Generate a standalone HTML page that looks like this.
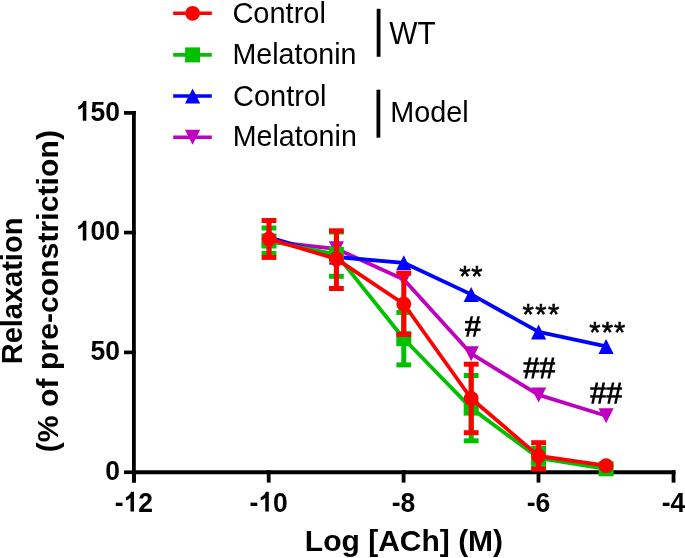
<!DOCTYPE html>
<html><head><meta charset="utf-8"><style>
html,body{margin:0;padding:0;background:#fff;width:685px;height:558px;overflow:hidden}
svg{display:block;will-change:transform}
</style></head><body>
<svg width="685" height="558" viewBox="0 0 685 558">
<line x1="133.9" y1="111.0" x2="133.9" y2="482.6" stroke="#000" stroke-width="3.8"/>
<line x1="132.0" y1="472.25" x2="675.4" y2="472.25" stroke="#000" stroke-width="3.9"/>
<line x1="124.0" y1="112.9" x2="135.8" y2="112.9" stroke="#000" stroke-width="3.7"/>
<line x1="124.0" y1="232.55" x2="135.8" y2="232.55" stroke="#000" stroke-width="3.7"/>
<line x1="124.0" y1="352.4" x2="135.8" y2="352.4" stroke="#000" stroke-width="3.7"/>
<line x1="124.0" y1="472.25" x2="135.8" y2="472.25" stroke="#000" stroke-width="3.7"/>
<line x1="133.9" y1="470.3" x2="133.9" y2="482.6" stroke="#000" stroke-width="3.8"/>
<line x1="268.7" y1="470.3" x2="268.7" y2="482.6" stroke="#000" stroke-width="3.8"/>
<line x1="403.6" y1="470.3" x2="403.6" y2="482.6" stroke="#000" stroke-width="3.8"/>
<line x1="538.5" y1="470.3" x2="538.5" y2="482.6" stroke="#000" stroke-width="3.8"/>
<line x1="673.55" y1="470.3" x2="673.55" y2="482.6" stroke="#000" stroke-width="3.8"/>
<g transform="matrix(1,0,0,1.04,0,-4.832)"><path transform="translate(75.90,120.8) scale(0.012939,-0.012939)" d="M806 0H532V1032Q382 892 178 825V1073Q285 1108 411 1214Q537 1320 584 1466H806Z"/><text x="90.63" y="120.8" font-family="Liberation Sans" font-weight="bold" font-size="26.5">50</text></g>
<g transform="matrix(1,0,0,1.04,0,-9.616)"><path transform="translate(75.90,240.4) scale(0.012939,-0.012939)" d="M806 0H532V1032Q382 892 178 825V1073Q285 1108 411 1214Q537 1320 584 1466H806Z"/><text x="90.63" y="240.4" font-family="Liberation Sans" font-weight="bold" font-size="26.5">00</text></g>
<g transform="matrix(1,0,0,1.04,0,-14.408)"><text x="90.63" y="360.2" font-family="Liberation Sans" font-weight="bold" font-size="26.5">50</text></g>
<g transform="matrix(1,0,0,1.04,0,-19.204)"><text x="105.37" y="480.1" font-family="Liberation Sans" font-weight="bold" font-size="26.5">0</text></g>
<g transform="matrix(1,0,0,1.04,0,-20.464)"><text x="114.75" y="511.6" font-family="Liberation Sans" font-weight="bold" font-size="26.5">-</text><path transform="translate(123.58,511.6) scale(0.012939,-0.012939)" d="M806 0H532V1032Q382 892 178 825V1073Q285 1108 411 1214Q537 1320 584 1466H806Z"/><text x="138.31" y="511.6" font-family="Liberation Sans" font-weight="bold" font-size="26.5">2</text></g>
<g transform="matrix(1,0,0,1.04,0,-20.464)"><text x="249.55" y="511.6" font-family="Liberation Sans" font-weight="bold" font-size="26.5">-</text><path transform="translate(258.38,511.6) scale(0.012939,-0.012939)" d="M806 0H532V1032Q382 892 178 825V1073Q285 1108 411 1214Q537 1320 584 1466H806Z"/><text x="273.11" y="511.6" font-family="Liberation Sans" font-weight="bold" font-size="26.5">0</text></g>
<g transform="matrix(1,0,0,1.04,0,-20.464)"><text x="391.82" y="511.6" font-family="Liberation Sans" font-weight="bold" font-size="26.5">-8</text></g>
<g transform="matrix(1,0,0,1.04,0,-20.464)"><text x="526.72" y="511.6" font-family="Liberation Sans" font-weight="bold" font-size="26.5">-6</text></g>
<g transform="matrix(1,0,0,1.04,0,-20.464)"><text x="661.77" y="511.6" font-family="Liberation Sans" font-weight="bold" font-size="26.5">-4</text></g>
<text x="304.85" y="550.6" font-family="Liberation Sans" font-weight="bold" font-size="30">Log [ACh] (M)</text>
<text transform="translate(22.2,364.3) rotate(-90)" font-family="Liberation Sans" font-weight="bold" font-size="29">Relaxation</text>
<text transform="translate(58,452.3) rotate(-90)" font-family="Liberation Sans" font-weight="bold" font-size="30" letter-spacing="0.1">(% of pre-constriction)</text>
<polyline points="269.0,241.5 336.4,248.8 403.8,279.5 471.2,353.7 538.6,394.9 606.1,415.8" fill="none" stroke="#c000c0" stroke-width="3.8" stroke-linejoin="round"/>
<polygon points="261.4,234.0 276.6,234.0 269.0,249.0" fill="#c000c0"/>
<polygon points="328.8,241.3 344.0,241.3 336.4,256.3" fill="#c000c0"/>
<polygon points="396.2,272.0 411.4,272.0 403.8,287.0" fill="#c000c0"/>
<polygon points="463.6,346.2 478.8,346.2 471.2,361.2" fill="#c000c0"/>
<polygon points="531.0,387.4 546.2,387.4 538.6,402.4" fill="#c000c0"/>
<polygon points="598.5,408.3 613.7,408.3 606.1,423.3" fill="#c000c0"/>
<polyline points="269.0,237.4 336.4,257.0 403.8,262.8 471.2,294.4 538.6,331.9 606.1,346.4" fill="none" stroke="#0000ff" stroke-width="3.8" stroke-linejoin="round"/>
<polygon points="269.0,229.9 276.6,244.9 261.4,244.9" fill="#0000ff"/>
<polygon points="336.4,249.5 344.0,264.5 328.8,264.5" fill="#0000ff"/>
<polygon points="403.8,255.3 411.4,270.3 396.2,270.3" fill="#0000ff"/>
<polygon points="471.2,286.9 478.8,301.9 463.6,301.9" fill="#0000ff"/>
<polygon points="538.6,324.4 546.2,339.4 531.0,339.4" fill="#0000ff"/>
<polygon points="606.1,338.9 613.7,353.9 598.5,353.9" fill="#0000ff"/>
<polyline points="269.0,241.0 336.4,254.3 403.8,338.7 471.2,408.1 538.6,458.0 606.1,468.8" fill="none" stroke="#00c000" stroke-width="3.8" stroke-linejoin="round"/>
<line x1="269.0" y1="228.0" x2="269.0" y2="253.5" stroke="#00c000" stroke-width="5.0"/><line x1="261.6" y1="228.0" x2="276.4" y2="228.0" stroke="#00c000" stroke-width="5.0"/><line x1="261.6" y1="253.5" x2="276.4" y2="253.5" stroke="#00c000" stroke-width="5.0"/><line x1="336.4" y1="232.0" x2="336.4" y2="276.3" stroke="#00c000" stroke-width="5.0"/><line x1="329.0" y1="232.0" x2="343.8" y2="232.0" stroke="#00c000" stroke-width="5.0"/><line x1="329.0" y1="276.3" x2="343.8" y2="276.3" stroke="#00c000" stroke-width="5.0"/><line x1="403.8" y1="312.4" x2="403.8" y2="364.9" stroke="#00c000" stroke-width="5.0"/><line x1="396.4" y1="312.4" x2="411.2" y2="312.4" stroke="#00c000" stroke-width="5.0"/><line x1="396.4" y1="364.9" x2="411.2" y2="364.9" stroke="#00c000" stroke-width="5.0"/><line x1="471.2" y1="375.5" x2="471.2" y2="440.8" stroke="#00c000" stroke-width="5.0"/><line x1="463.8" y1="375.5" x2="478.6" y2="375.5" stroke="#00c000" stroke-width="5.0"/><line x1="463.8" y1="440.8" x2="478.6" y2="440.8" stroke="#00c000" stroke-width="5.0"/><line x1="538.6" y1="448.3" x2="538.6" y2="467.8" stroke="#00c000" stroke-width="5.0"/><line x1="531.2" y1="448.3" x2="546.0" y2="448.3" stroke="#00c000" stroke-width="5.0"/><line x1="531.2" y1="467.8" x2="546.0" y2="467.8" stroke="#00c000" stroke-width="5.0"/>
<rect x="261.5" y="233.5" width="15" height="15" fill="#00c000"/>
<rect x="328.9" y="246.8" width="15" height="15" fill="#00c000"/>
<rect x="396.3" y="331.2" width="15" height="15" fill="#00c000"/>
<rect x="463.7" y="400.6" width="15" height="15" fill="#00c000"/>
<rect x="531.1" y="450.5" width="15" height="15" fill="#00c000"/>
<rect x="598.6" y="461.3" width="15" height="15" fill="#00c000"/>
<polyline points="269.0,238.9 336.4,258.9 403.8,304.0 471.2,398.5 538.6,456.0 606.1,465.7" fill="none" stroke="#ff0000" stroke-width="3.8" stroke-linejoin="round"/>
<line x1="269.0" y1="220.5" x2="269.0" y2="257.4" stroke="#ff0000" stroke-width="5.0"/><line x1="261.6" y1="220.5" x2="276.4" y2="220.5" stroke="#ff0000" stroke-width="5.0"/><line x1="261.6" y1="257.4" x2="276.4" y2="257.4" stroke="#ff0000" stroke-width="5.0"/><line x1="336.4" y1="230.8" x2="336.4" y2="288.5" stroke="#ff0000" stroke-width="5.0"/><line x1="329.0" y1="230.8" x2="343.8" y2="230.8" stroke="#ff0000" stroke-width="5.0"/><line x1="329.0" y1="288.5" x2="343.8" y2="288.5" stroke="#ff0000" stroke-width="5.0"/><line x1="403.8" y1="273.3" x2="403.8" y2="334.5" stroke="#ff0000" stroke-width="5.0"/><line x1="396.4" y1="273.3" x2="411.2" y2="273.3" stroke="#ff0000" stroke-width="5.0"/><line x1="396.4" y1="334.5" x2="411.2" y2="334.5" stroke="#ff0000" stroke-width="5.0"/><line x1="471.2" y1="364.2" x2="471.2" y2="432.7" stroke="#ff0000" stroke-width="5.0"/><line x1="463.8" y1="364.2" x2="478.6" y2="364.2" stroke="#ff0000" stroke-width="5.0"/><line x1="463.8" y1="432.7" x2="478.6" y2="432.7" stroke="#ff0000" stroke-width="5.0"/><line x1="538.6" y1="442.7" x2="538.6" y2="469.1" stroke="#ff0000" stroke-width="5.0"/><line x1="531.2" y1="442.7" x2="546.0" y2="442.7" stroke="#ff0000" stroke-width="5.0"/><line x1="531.2" y1="469.1" x2="546.0" y2="469.1" stroke="#ff0000" stroke-width="5.0"/>
<circle cx="269.0" cy="238.9" r="7.4" fill="#ff0000"/>
<circle cx="336.4" cy="258.9" r="7.4" fill="#ff0000"/>
<circle cx="403.8" cy="304.0" r="7.4" fill="#ff0000"/>
<circle cx="471.2" cy="398.5" r="7.4" fill="#ff0000"/>
<circle cx="538.6" cy="456.0" r="7.4" fill="#ff0000"/>
<circle cx="606.1" cy="465.7" r="7.4" fill="#ff0000"/>
<text x="459.3" y="286" font-family="Liberation Sans" font-size="29" stroke="#000" stroke-width="0.6" letter-spacing="0.7">**</text>
<text x="522.6" y="323.8" font-family="Liberation Sans" font-size="29" stroke="#000" stroke-width="0.6" letter-spacing="1.45">***</text>
<text x="589.3" y="341.6" font-family="Liberation Sans" font-size="29" stroke="#000" stroke-width="0.6" letter-spacing="1.1">***</text>
<g fill="#000"><rect x="465.00" y="320.90" width="15.6" height="2.4"/><rect x="465.00" y="328.50" width="15.6" height="2.4"/><polygon points="470.55,316.30 473.05,316.30 468.55,336.70 466.05,336.70"/><polygon points="477.35,316.30 479.85,316.30 475.35,336.70 472.85,336.70"/><rect x="523.40" y="362.23" width="15.6" height="2.4"/><rect x="523.40" y="370.13" width="15.6" height="2.4"/><polygon points="528.95,357.40 531.45,357.40 526.95,378.60 524.45,378.60"/><polygon points="535.75,357.40 538.25,357.40 533.75,378.60 531.25,378.60"/><rect x="539.50" y="362.23" width="15.6" height="2.4"/><rect x="539.50" y="370.13" width="15.6" height="2.4"/><polygon points="545.05,357.40 547.55,357.40 543.05,378.60 540.55,378.60"/><polygon points="551.85,357.40 554.35,357.40 549.85,378.60 547.35,378.60"/><rect x="590.20" y="387.33" width="15.6" height="2.4"/><rect x="590.20" y="395.23" width="15.6" height="2.4"/><polygon points="595.75,382.50 598.25,382.50 593.75,403.70 591.25,403.70"/><polygon points="602.55,382.50 605.05,382.50 600.55,403.70 598.05,403.70"/><rect x="606.30" y="387.33" width="15.6" height="2.4"/><rect x="606.30" y="395.23" width="15.6" height="2.4"/><polygon points="611.85,382.50 614.35,382.50 609.85,403.70 607.35,403.70"/><polygon points="618.65,382.50 621.15,382.50 616.65,403.70 614.15,403.70"/></g>
<line x1="173.2" y1="13.3" x2="211.8" y2="13.3" stroke="#ff0000" stroke-width="3.6"/>
<circle cx="192.6" cy="13.3" r="7.4" fill="#ff0000"/>
<text x="232.4" y="22.6" font-family="Liberation Sans" font-size="29">Control</text>
<line x1="173.2" y1="54.9" x2="211.8" y2="54.9" stroke="#00c000" stroke-width="3.6"/>
<rect x="185.1" y="47.4" width="15" height="15" fill="#00c000"/>
<text x="232.5" y="63.5" font-family="Liberation Sans" font-size="28.6">Melatonin</text>
<line x1="173.2" y1="96.0" x2="211.8" y2="96.0" stroke="#0000ff" stroke-width="3.6"/>
<polygon points="192.6,88.5 200.2,103.5 185.0,103.5" fill="#0000ff"/>
<text x="233.0" y="105.5" font-family="Liberation Sans" font-size="29">Control</text>
<line x1="173.2" y1="137.3" x2="211.8" y2="137.3" stroke="#c000c0" stroke-width="3.6"/>
<polygon points="185.0,129.8 200.2,129.8 192.6,144.8" fill="#c000c0"/>
<text x="232.8" y="146.3" font-family="Liberation Sans" font-size="28.6">Melatonin</text>
<line x1="378.6" y1="8.8" x2="378.6" y2="56.8" stroke="#000" stroke-width="3.8"/>
<line x1="378.4" y1="89.7" x2="378.4" y2="137.7" stroke="#000" stroke-width="3.8"/>
<text x="389.3" y="44.1" transform="matrix(1,0,0,1.04,0,-1.764)" font-family="Liberation Sans" font-size="29.9">WT</text>
<text x="390.3" y="122.0" font-family="Liberation Sans" font-size="28.8">Model</text>
</svg>
</body></html>
